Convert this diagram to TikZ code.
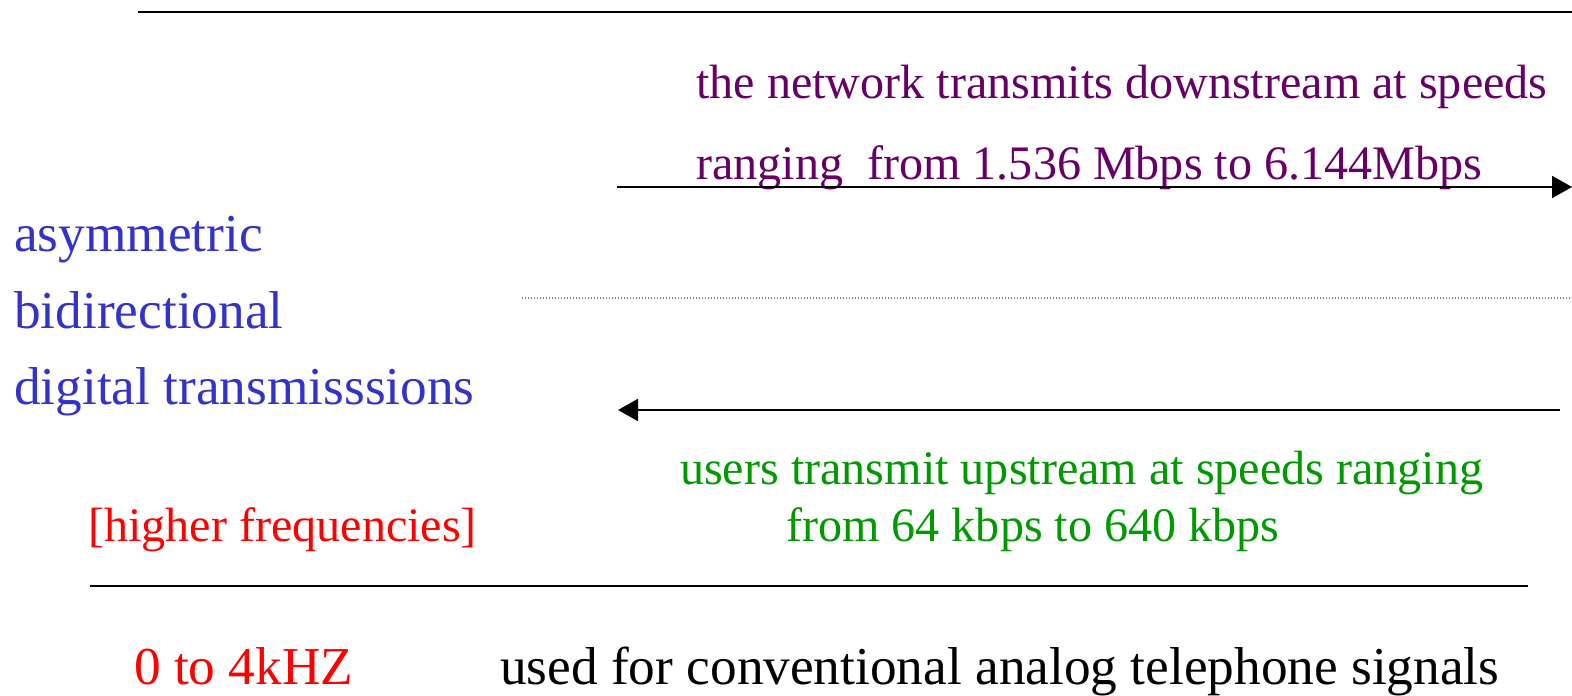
\documentclass[tikz,border=0pt]{standalone}
\definecolor{DownColor}{RGB}{102,0,102}
\definecolor{TermColor}{RGB}{51,51,204}
\definecolor{UpColor}{RGB}{0,153,0}
\definecolor{BandColor}{RGB}{255,0,0}
\usepackage{fontspec}
\setmainfont{Liberation Serif}
\usepackage{tikz}
\usetikzlibrary{positioning, arrows.meta}
\tikzstyle{label} = [anchor=base west, inner sep=0pt, font=\fontsize{48.3}{58}\selectfont]
\tikzstyle{biglabel} = [label, font=\fontsize{53.5}{64}\selectfont]
\tikzstyle{rule} = [line width=2bp, black]
\tikzstyle{arrow} = [line width=2bp, black, -{Triangle[length=20bp,width=22bp]}]

\begin{document}
\begin{tikzpicture}[x=1bp, y=-1bp]
        \useasboundingbox (0,0) rectangle (1572,696);

        % Band limits
        \coordinate (topL) at (138,12);
        \coordinate (topR) at (1572,12);
        \coordinate (botL) at (90,586);
        \coordinate (botR) at (1528,586);
        \draw[rule] (topL) -- (topR);
        \draw[rule] (botL) -- (botR);

        % Downstream
        \node[label, DownColor] (down1) at (696,99) {the network transmits downstream at speeds};
        \node[label, DownColor] (down2) at (696,179) {ranging\ \ from 1.536 Mbps to 6.144Mbps};
        \coordinate (downA) at (617,187);
        \coordinate (downB) at (1572,187);
        \draw[arrow] (downA) -- (downB);

        % Divider
        \coordinate (midL) at (522,298);
        \coordinate (midR) at (1572,298);
        \draw[gray, line width=1.5bp, dash pattern=on 1.3bp off 1.7bp] (midL) -- (midR);

        % Upstream
        \coordinate (upA) at (1560,410);
        \coordinate (upB) at (618,410);
        \draw[arrow] (upA) -- (upB);
        \node[label, UpColor] (up1) at (680,484) {users transmit upstream at speeds ranging};
        \node[label, UpColor] (up2) at (786,541) {from 64 kbps to 640 kbps};

        % Left side
        \node[biglabel, TermColor] (term1) at (14,251) {asymmetric};
        \node[biglabel, TermColor] (term2) at (14,328) {bidirectional};
        \node[biglabel, TermColor] (term3) at (14,404) {digital transmisssions};
        \node[label, BandColor] (high) at (88,541) {[higher frequencies]};

        % Voice band
        \node[biglabel, BandColor] (low) at (134,684) {0 to 4kHZ};
        \node[biglabel] (voice) at (500,684) {used for conventional analog telephone signals};

      \end{tikzpicture}
\end{document}
